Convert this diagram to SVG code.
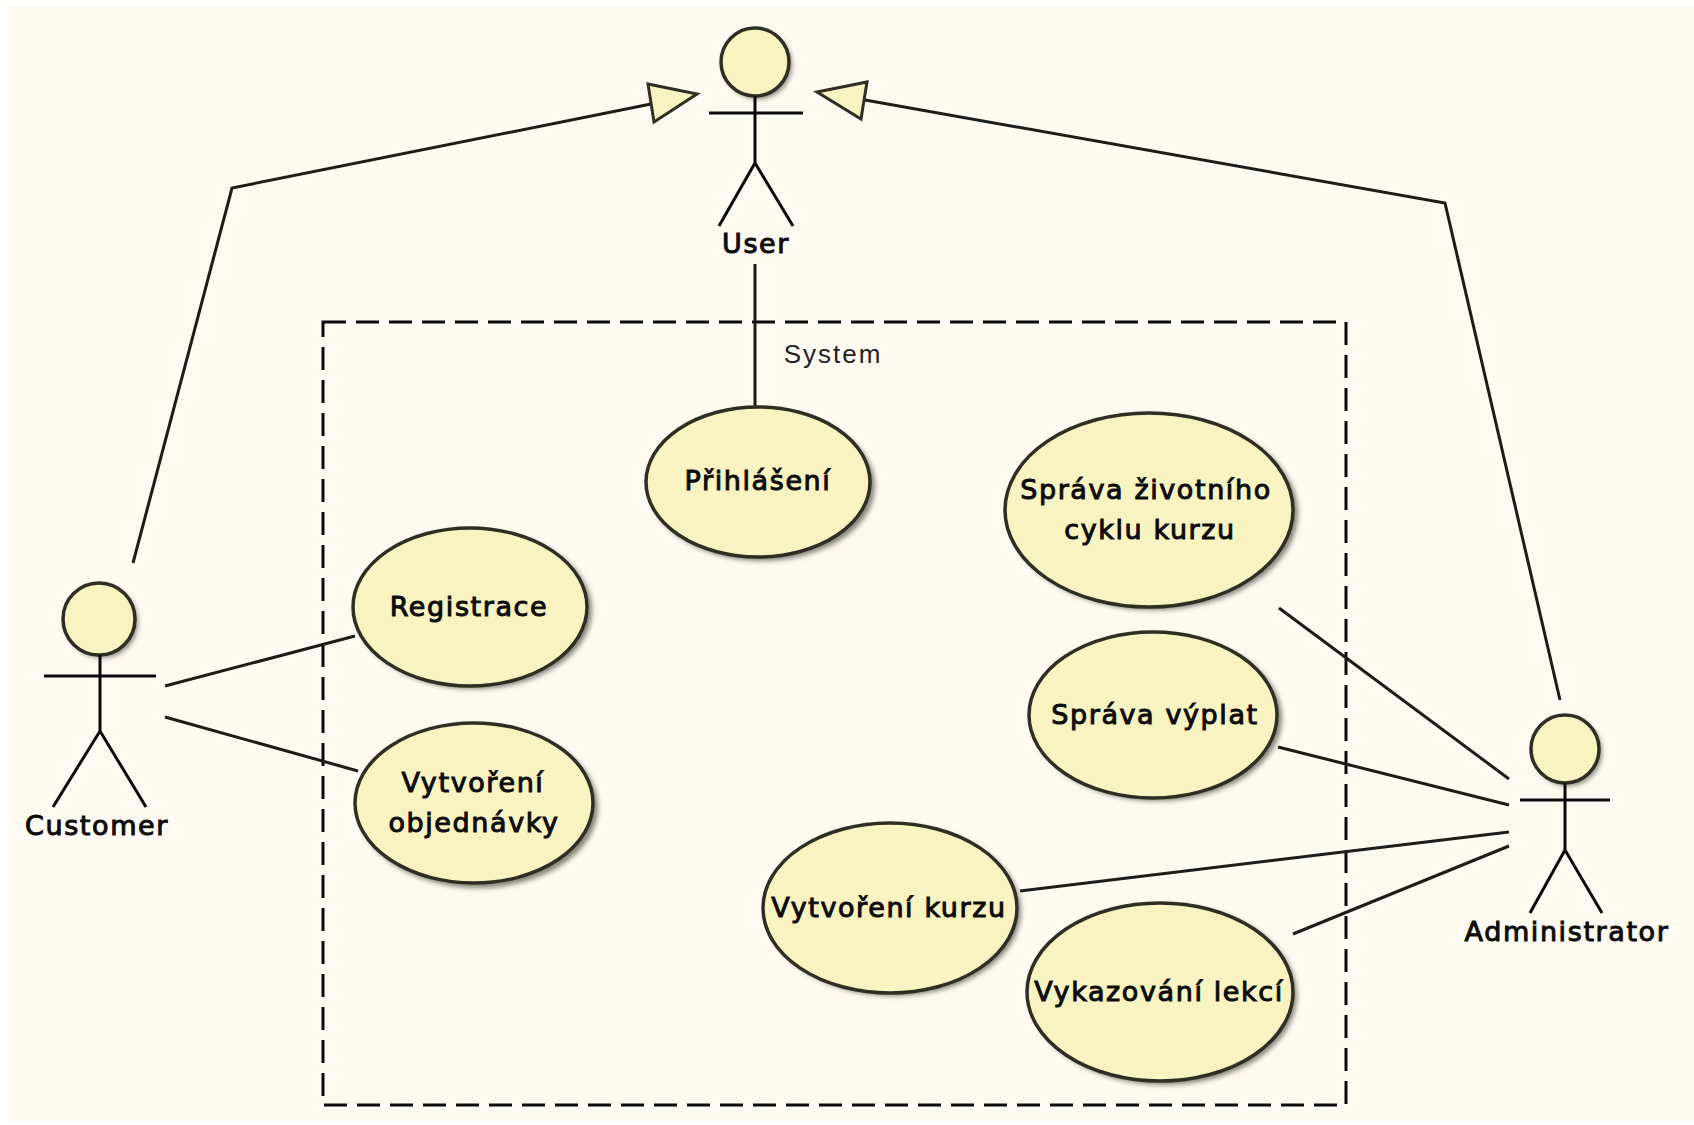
<svg xmlns="http://www.w3.org/2000/svg" width="1694" height="1125" viewBox="0 0 1694 1125">
<style>
.uc{fill:#f8f3c1;stroke:#2e2e22;stroke-width:3.5}
.sh{fill:#85857a;filter:url(#b);stroke:none}
.st{fill:none;stroke:#0a0a0a;stroke-width:3}
.ln{fill:none;stroke:#1c1c18;stroke-width:3}
.ar{fill:#f8f3c1;stroke:#2e2e22;stroke-width:3;stroke-linejoin:miter}
text{font-family:"DejaVu Sans","Liberation Sans",sans-serif;font-size:27px;letter-spacing:1.6px;font-weight:500;fill:#0c0c0c;text-anchor:middle;stroke:#0c0c0c;stroke-width:1}
.sys{font-size:26px;letter-spacing:2px;stroke:none;fill:#222;font-family:"Liberation Sans",sans-serif}
</style>
<defs><filter id="b" x="-10%" y="-10%" width="120%" height="120%"><feGaussianBlur stdDeviation="2.5"/></filter></defs>
<rect width="1694" height="1125" fill="#fff"/>
<rect x="8" y="5" width="1686" height="1116" fill="#fefaf2"/>
<g id="system"><rect x="323" y="322" width="1023" height="783" fill="none" stroke="#0a0a0a" stroke-width="3" stroke-dasharray="23 10"/><text class="sys" x="833" y="363">System</text></g>
<g id="connectors">
<polyline class="ln" points="133,563 232,188 651,104"/>
<polyline class="ln" points="865,100 1445,203 1560,700"/>
<line class="ln" x1="755" y1="264" x2="755" y2="408"/>
<line class="ln" x1="165" y1="686" x2="355" y2="636"/>
<line class="ln" x1="165" y1="717" x2="358" y2="771"/>
<line class="ln" x1="1279" y1="608" x2="1509" y2="779"/>
<line class="ln" x1="1278" y1="747" x2="1509" y2="805"/>
<line class="ln" x1="1020" y1="891" x2="1509" y2="832"/>
<line class="ln" x1="1293" y1="934" x2="1509" y2="846"/>
<polygon class="ar" points="648,84 697,94 654,122"/>
<polygon class="ar" points="817,92 867,82 861,119"/>
</g>
<g id="user"><circle class="sh" cx="758" cy="65" r="34"/><circle class="uc" cx="755" cy="62" r="34"/><path class="st" d="M755 96V163M709 113H803M719 226L755 163L793 226"/><text x="756" y="253">User</text></g>
<g id="customer"><circle class="sh" cx="102" cy="622" r="36"/><circle class="uc" cx="99" cy="619" r="36"/><path class="st" d="M100 655V731M44 676H156M53 807L100 731L146 807"/><text x="97" y="835">Customer</text></g>
<g id="administrator"><circle class="sh" cx="1568" cy="752" r="34"/><circle class="uc" cx="1565" cy="749" r="34"/><path class="st" d="M1565 783V850M1520 800H1610M1530 913L1565 850L1602 913"/><text x="1567" y="941">Administrator</text></g>
<g id="prihlaseni"><ellipse class="sh" cx="762" cy="486" rx="113" ry="75"/><ellipse class="uc" cx="758" cy="482" rx="112" ry="75"/><text x="758" y="490">Přihlášení</text></g>
<g id="sprava-zivotniho"><ellipse class="sh" cx="1153" cy="513" rx="145" ry="97"/><ellipse class="uc" cx="1149" cy="510" rx="144" ry="97"/><text x="1146" y="499">Správa životního</text><text x="1150" y="539">cyklu kurzu</text></g>
<g id="sprava-vyplat"><ellipse class="sh" cx="1157" cy="718" rx="125" ry="83"/><ellipse class="uc" cx="1153" cy="715" rx="124" ry="83"/><text x="1155" y="724">Správa výplat</text></g>
<g id="registrace"><ellipse class="sh" cx="474" cy="610" rx="118" ry="79"/><ellipse class="uc" cx="470" cy="607" rx="117" ry="79"/><text x="469" y="616">Registrace</text></g>
<g id="vytvoreni-objednavky"><ellipse class="sh" cx="478" cy="807" rx="120" ry="81"/><ellipse class="uc" cx="474" cy="803" rx="119" ry="80"/><text x="473" y="792">Vytvoření</text><text x="474" y="832">objednávky</text></g>
<g id="vytvoreni-kurzu"><ellipse class="sh" cx="894" cy="911" rx="127" ry="85"/><ellipse class="uc" cx="890" cy="908" rx="127" ry="85"/><text x="889" y="917">Vytvoření kurzu</text></g>
<g id="vykazovani-lekci"><ellipse class="sh" cx="1164" cy="995" rx="133" ry="90"/><ellipse class="uc" cx="1160" cy="992" rx="133" ry="89"/><text x="1159" y="1001">Vykazování lekcí</text></g>
</svg>
